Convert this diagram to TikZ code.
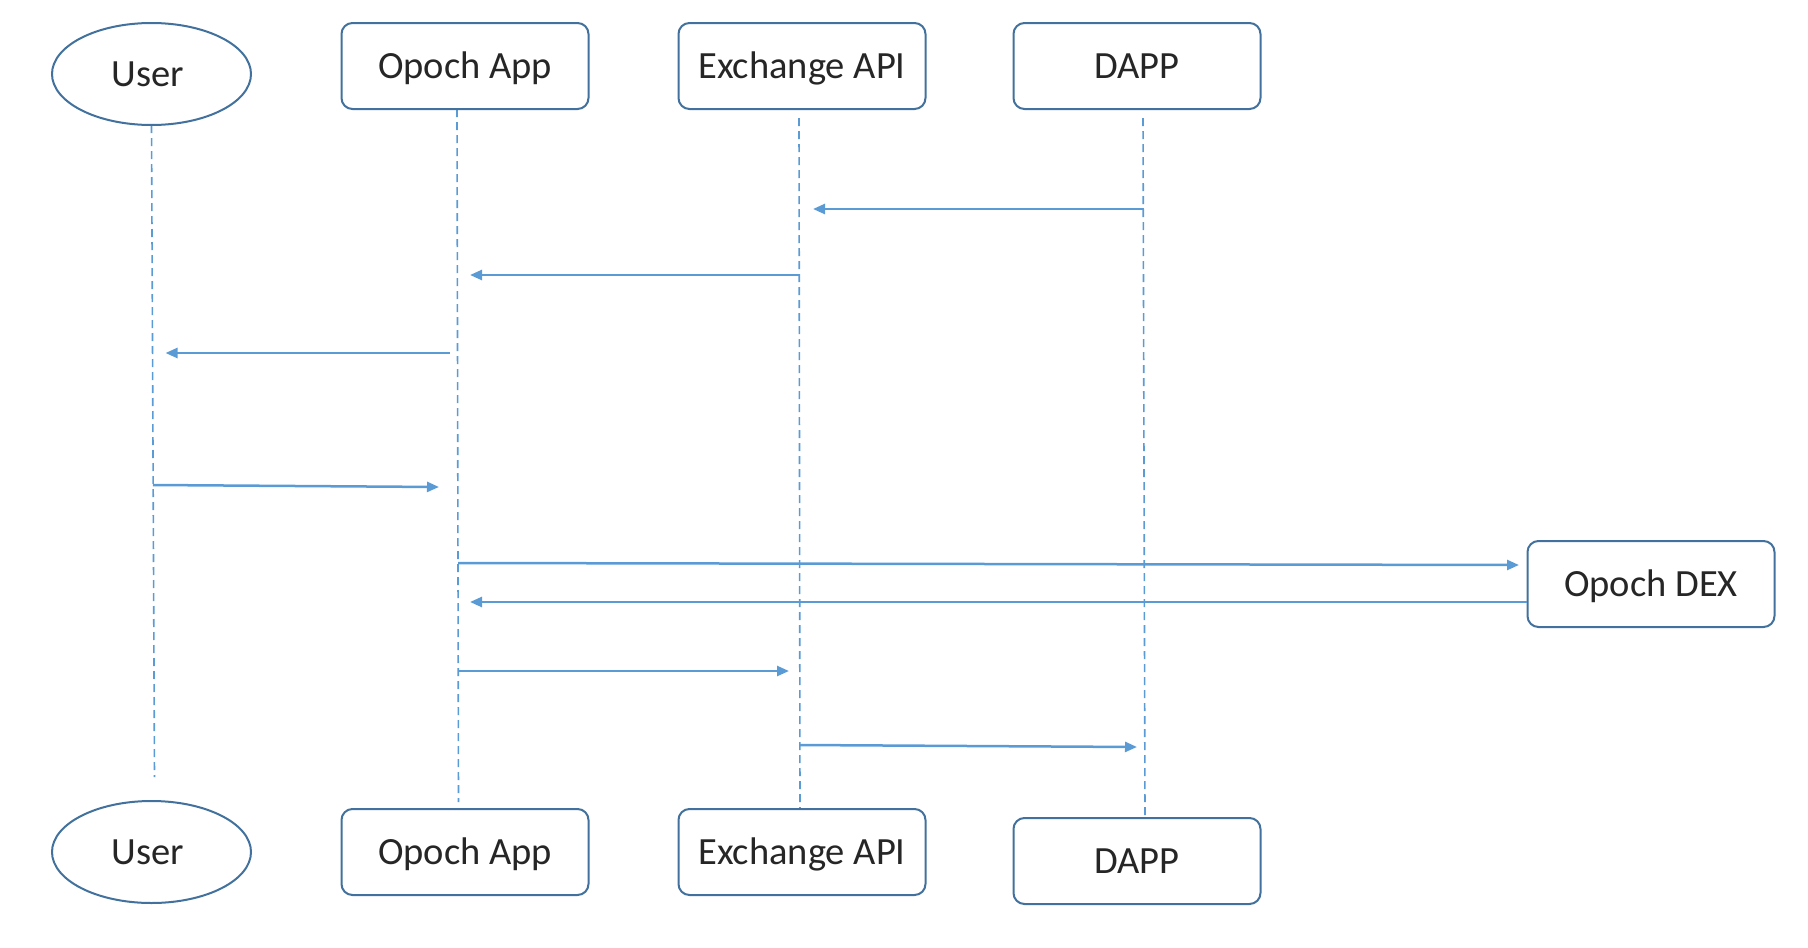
\documentclass[tikz,border=0pt]{standalone}
\usepackage{fontspec}
\setmainfont{Carlito}
\usetikzlibrary{shapes.geometric,arrows.meta}
\definecolor{boxblue}{HTML}{41719C}
\definecolor{lineblue}{HTML}{5B9BD5}
\definecolor{txt}{HTML}{262626}
\begin{document}
\begin{tikzpicture}[x=1pt,y=-1pt,
  every node/.style={font=\fontsize{38.5}{46}\selectfont, text=txt, text height=32pt, text depth=8pt},
  actorbox/.style={draw=boxblue, line width=2pt, rounded corners=11pt, minimum width=247pt, minimum height=86pt, inner sep=0pt, fill=white},
  actorell/.style={draw=boxblue, line width=2pt, ellipse, minimum width=199pt, minimum height=102pt, inner sep=0pt, fill=white},
  lifeline/.style={draw=lineblue, line width=1.6pt, dash pattern=on 8pt off 5pt},
  msg/.style={draw=lineblue, line width=2.5pt, -{Triangle[length=12pt,width=10pt]}}]
\useasboundingbox (0,0) rectangle (1808,948);
% lifelines
\coordinate (uT) at (151.5,125); \coordinate (uB) at (154.5,777);
\coordinate (aT) at (457,109);   \coordinate (aB) at (458.5,802);
\coordinate (eT) at (799,118);   \coordinate (eB) at (800,812);
\coordinate (dT) at (1143,118);  \coordinate (dB) at (1145,817);
\draw[lifeline] (uT) -- (uB);
\draw[lifeline] (aT) -- (aB);
\draw[lifeline] (eT) -- (eB);
\draw[lifeline] (dT) -- (dB);
% participants
\node[actorell] (u1) at (151.5,74) {\hspace*{-8pt}User};
\node[actorbox] (a1) at (465,66) {Opoch App};
\node[actorbox] (e1) at (802,66) {Exchange API};
\node[actorbox] (d1) at (1137,66) {DAPP};
\node[actorell] (u2) at (151.5,852) {\hspace*{-8pt}User};
\node[actorbox] (a2) at (465,852) {Opoch App};
\node[actorbox] (e2) at (802,852) {Exchange API};
\node[actorbox] (d2) at (1137,861) {DAPP};
\node[actorbox] (dex) at (1651,584) {Opoch DEX};
% messages
\coordinate (m1s) at (1143.5,209); \coordinate (m1e) at (813,209);
\coordinate (m2s) at (799.3,275);  \coordinate (m2e) at (470,275);
\coordinate (m3s) at (450,353);    \coordinate (m3e) at (165.5,353);
\coordinate (m4s) at (153,485);    \coordinate (m4e) at (439,487);
\coordinate (m5s) at (458,563);    \coordinate (m5e) at (1519,565);
\coordinate (m6e) at (470,602);
\coordinate (m7s) at (458,671);    \coordinate (m7e) at (789,671);
\coordinate (m8s) at (800,745);    \coordinate (m8e) at (1137,747);
\draw[msg] (m1s) -- (m1e);
\draw[msg] (m2s) -- (m2e);
\draw[msg] (m3s) -- (m3e);
\draw[msg] (m4s) -- (m4e);
\draw[msg] (m5s) -- (m5e);
\draw[msg] (dex.west |- m6e) -- (m6e);
\draw[msg] (m7s) -- (m7e);
\draw[msg] (m8s) -- (m8e);
\end{tikzpicture}
\end{document}
